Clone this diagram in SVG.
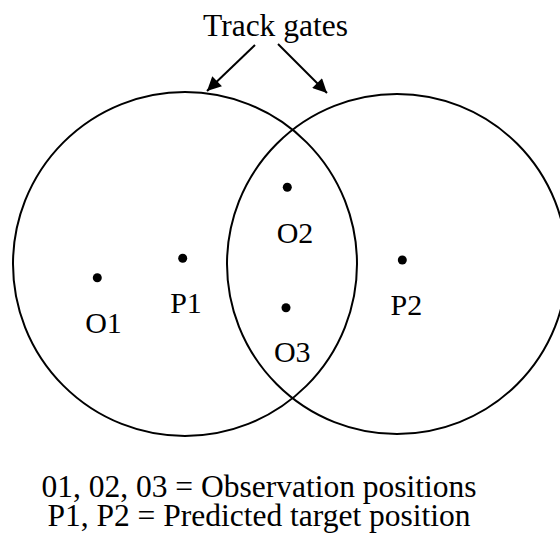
<svg xmlns="http://www.w3.org/2000/svg" width="560" height="537" viewBox="0 0 560 537">
<style>
.gate{fill:none;stroke:#000;stroke-width:2}
.dot{fill:#000}
.lbl{font-family:"Liberation Serif","Times New Roman",serif;font-size:30px;fill:#000;text-anchor:middle}
.big{font-size:31.5px}
.conn{stroke:#000;stroke-width:2;fill:none;marker-end:url(#ah)}
</style>
<defs>
<marker id="ah" viewBox="0 0 10 10" refX="10" refY="5" markerWidth="8" markerHeight="7" markerUnits="strokeWidth" orient="auto">
<path d="M0,0 L10,5 L0,10 z" fill="#000"/>
</marker>
</defs>
<rect width="560" height="537" fill="#fff"/>
<g id="gate1"><circle class="gate" cx="185" cy="264" r="172"/></g>
<g id="gate2"><circle class="gate" cx="397" cy="264" r="170"/></g>
<g id="title"><text class="lbl big" x="275.5" y="36">Track gates</text></g>
<g id="connectors">
<line class="conn" x1="255" y1="45" x2="207" y2="91"/>
<line class="conn" x1="278" y1="44" x2="327" y2="93"/>
</g>
<g id="O1"><circle class="dot" cx="97.3" cy="277.7" r="4.5"/><text class="lbl" x="103.5" y="333">O1</text></g>
<g id="P1"><circle class="dot" cx="182.7" cy="258.3" r="4.5"/><text class="lbl" x="186" y="312.5">P1</text></g>
<g id="O2"><circle class="dot" cx="287.3" cy="187.3" r="4.5"/><text class="lbl" x="295" y="242.7">O2</text></g>
<g id="O3"><circle class="dot" cx="286" cy="307.7" r="4.5"/><text class="lbl" x="292.3" y="362">O3</text></g>
<g id="P2"><circle class="dot" cx="402.3" cy="260" r="4.5"/><text class="lbl" x="406.3" y="315">P2</text></g>
<g id="legend">
<text class="lbl big" x="259" y="497">01, 02, 03 = Observation positions</text>
<text class="lbl big" x="259" y="526">P1, P2 = Predicted target position</text>
</g>
</svg>
